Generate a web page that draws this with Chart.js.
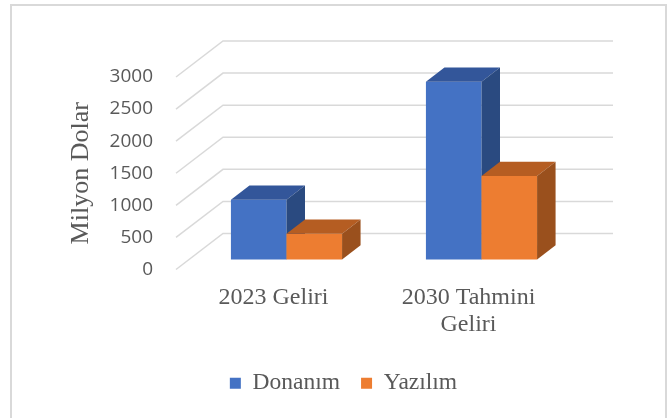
<!DOCTYPE html>
<html>
<head>
<meta charset="utf-8">
<title>Donanım ve Yazılım Geliri</title>
<script src="https://cdn.jsdelivr.net/npm/chart.js"></script>
<style>
  html, body { margin: 0; padding: 0; background: #fff; }
  canvas { display: block; }
</style>
</head>
<body>
<canvas id="myChart" width="669" height="418"></canvas>
<script>
const categories = ['2023 Geliri', ['2030 Tahmini', 'Geliri']];
const donanim = [930, 2770];
const yazilim = [400, 1300];
const yTicks = [0, 500, 1000, 1500, 2000, 2500, 3000];

const serif = '"Liberation Serif", "Times New Roman", serif';

// fake 3D: floor depth, where the bar fronts sit, and bar thickness
const DEPTH_X = 47, DEPTH_Y = 36;
const BAR_X = 13, BAR_Y = 10;
const BAR_DX = 18.5, BAR_DY = 14.3;

const faces = [
  { top: '#33569a', side: '#2a4a80' },
  { top: '#b55d22', side: '#9a501d' }
];

const threeD = {
  id: 'threeD',
  beforeDraw(chart) {
    const c = chart.ctx;
    c.save();
    c.fillStyle = '#fff';
    c.fillRect(0, 0, chart.width, chart.height);
    c.strokeStyle = '#d9d9d9';
    c.lineWidth = 2;
    c.strokeRect(11, 5, 655, 430);
    c.restore();
  },
  beforeDatasetsDraw(chart) {
    const c = chart.ctx, y = chart.scales.y, a = chart.chartArea;
    c.save();
    c.strokeStyle = '#d9d9d9';
    c.lineWidth = 1.5;
    yTicks.forEach(v => {
      const py = y.getPixelForValue(v);
      c.beginPath();
      c.moveTo(a.left, py);
      c.lineTo(a.left + DEPTH_X, py - DEPTH_Y);
      c.lineTo(a.right + DEPTH_X, py - DEPTH_Y);
      c.stroke();
    });
    c.restore();
  },
  // bars are drawn below, dataset by dataset, so faces overlap like in Excel
  beforeDatasetDraw() { return false; },
  afterDatasetsDraw(chart) {
    const c = chart.ctx;
    c.save();
    c.translate(BAR_X, -BAR_Y);
    chart.data.datasets.forEach((ds, i) => {
      const f = faces[i];
      chart.getDatasetMeta(i).data.forEach(bar => {
        bar.draw(c);
        const { x, y, base, width } = bar.getProps(['x', 'y', 'base', 'width'], true);
        const l = x - width / 2, r = x + width / 2;
        c.fillStyle = f.top;
        c.beginPath();
        c.moveTo(l, y); c.lineTo(r, y);
        c.lineTo(r + BAR_DX, y - BAR_DY); c.lineTo(l + BAR_DX, y - BAR_DY);
        c.closePath(); c.fill();
        c.fillStyle = f.side;
        c.beginPath();
        c.moveTo(r, y); c.lineTo(r + BAR_DX, y - BAR_DY);
        c.lineTo(r + BAR_DX, base - BAR_DY); c.lineTo(r, base);
        c.closePath(); c.fill();
      });
    });
    c.restore();
  }
};

new Chart(document.getElementById('myChart'), {
  type: 'bar',
  data: {
    labels: categories,
    datasets: [
      { label: 'Donanım', data: donanim, backgroundColor: '#4472c4' },
      { label: 'Yazılım', data: yazilim, backgroundColor: '#ed7d31' }
    ]
  },
  options: {
    responsive: false,
    animation: false,
    datasets: { bar: { categoryPercentage: 0.57, barPercentage: 1 } },
    layout: { padding: { left: 20, right: 2, top: 77, bottom: 13 } },
    scales: {
      x: {
        grid: { display: false, drawTicks: false },
        border: { display: false },
        ticks: { maxRotation: 0, padding: 15, color: '#595959', font: { family: serif, size: 24, lineHeight: 1.125 } },
        afterFit: s => { s.height = 81; }
      },
      y: {
        min: 0, max: 3000,
        afterBuildTicks: s => { s.ticks = yTicks.map(v => ({ value: v })); },
        grid: { display: false, drawTicks: false },
        border: { display: false },
        ticks: { padding: 23, color: '#595959', font: { family: '"Open Sans"', size: 19 }, callback: v => String(v) },
        title: { display: true, text: 'Milyon Dolar', color: '#595959', font: { family: serif, size: 26 }, padding: { top: 46, bottom: 0 } },
        afterFit: s => { s.width = 156; }
      },
      y2: {
        position: 'right',
        grid: { display: false, drawTicks: false },
        border: { display: false },
        ticks: { display: false },
        afterFit: s => { s.width = 101; }
      }
    },
    plugins: {
      legend: {
        position: 'bottom',
        labels: {
          boxWidth: 11, boxHeight: 11, padding: 21, color: '#595959',
          font: { family: serif, size: 23.5 }
        }
      },
      tooltip: { enabled: false }
    }
  },
  plugins: [threeD]
});
</script>
</body>
</html>
